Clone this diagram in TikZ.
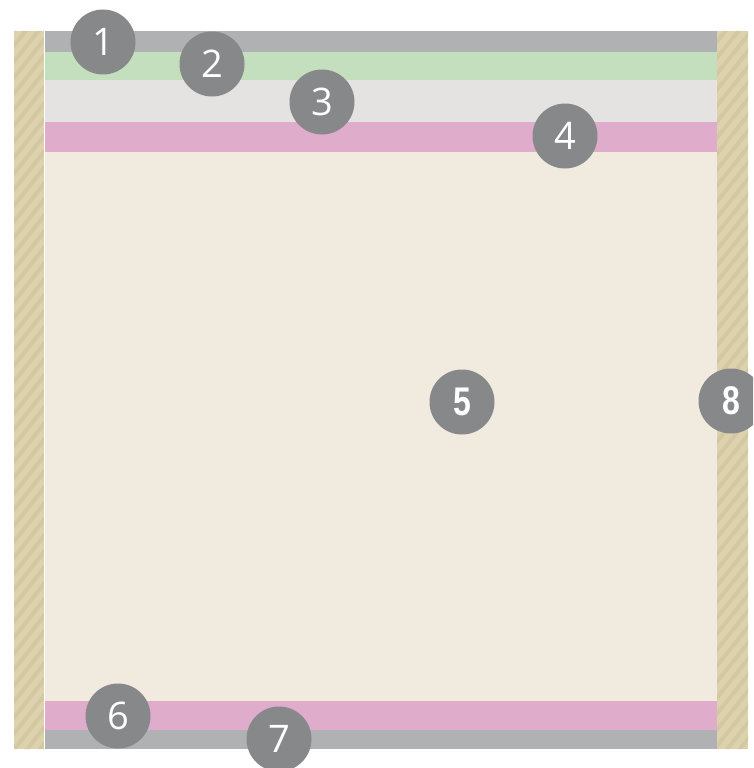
\documentclass[tikz,border=0pt]{standalone}
\usepackage{fontspec}
\newfontfamily\numfont{Open Sans}
\newfontfamily\narrowfont{Liberation Sans}
\usetikzlibrary{positioning}
\definecolor{wallfill}{RGB}{221, 210, 174}
\definecolor{wallstripe}{RGB}{212, 200, 163}
\definecolor{coatgray}{RGB}{176, 177, 179}
\definecolor{coatgreen}{RGB}{196, 223, 189}
\definecolor{coatlight}{RGB}{228, 227, 225}
\definecolor{coatpink}{RGB}{224, 172, 203}
\definecolor{corefill}{RGB}{241, 234, 223}
\definecolor{markgray}{RGB}{135, 136, 138}

\begin{document}
\begin{tikzpicture}[x=1pt, y=-1pt,
    marker/.style={circle, fill=markgray, text=white, minimum size=65pt,
                   inner sep=0pt, font=\numfont\fontsize{38}{38}\selectfont},
    boldmarker/.style={marker, font=\narrowfont\bfseries\fontsize{40}{40}\selectfont},
    stripe/.style={wallstripe, line width=4pt}]
    \useasboundingbox (0,0) rectangle (753,768);
    \clip (0,0) rectangle (753,768);

    % Side walls
    \fill[wallfill] (14,31) rectangle (44,749);
    \fill[wallfill] (717,31) rectangle (748,749);
    \begin{scope}
        \clip (14,31) rectangle (44,749) (717,31) rectangle (748,749);
        \foreach \k in {0,...,56} {
            \draw[stripe] (0,{31+\k*16}) -- ++(60,-75);
            \draw[stripe] (700,{31+\k*16}) -- ++(60,-75);
        }
    \end{scope}

    % Layers, top to bottom
    \fill[coatgray] (44,31) rectangle (717,52);
    \fill[coatgreen] (44,52) rectangle (717,80);
    \fill[coatlight] (44,80) rectangle (717,122);
    \fill[coatpink] (44,122) rectangle (717,152);
    \fill[corefill] (44,152) rectangle (717,701);
    \fill[coatpink] (44,701) rectangle (717,730);
    \fill[coatgray] (44,730) rectangle (717,749);
    \draw[white, line width=0.8pt] (44,31) -- (44,749);

    % Markers
    \node[marker] (m1) at (103,42) {1};
    \node[marker] (m2) at (212,64) {2};
    \node[marker] (m3) at (322,102) {3};
    \node[marker] (m4) at (565,136) {4};
    \node[boldmarker] (m5) at (462,402) {\scalebox{0.8}[1]{5}};
    \node[marker] (m6) at (118,716) {6};
    \node[marker] (m7) at (279,739) {7};
    \node[boldmarker] (m8) at (731,401) {\scalebox{0.8}[1]{8}};
\end{tikzpicture}
\end{document}
